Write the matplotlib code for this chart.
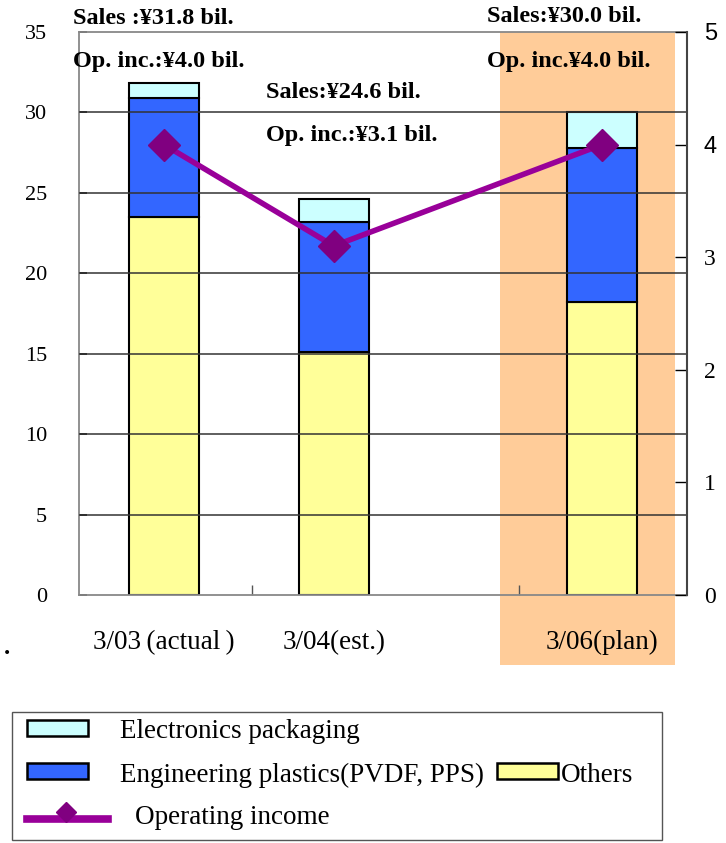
import matplotlib
matplotlib.use('Agg')
import matplotlib.pyplot as plt
from matplotlib.patches import Rectangle
from matplotlib.lines import Line2D
import matplotlib.transforms as mtransforms

# Data (billion yen)
periods = ['3/03\u2009(actual\u2009)', '3/04(est.)', '3/06(plan)']
others = [23.5, 15.1, 18.2]
eng_plastics = [7.4, 8.1, 9.6]
electronics = [0.9, 1.4, 2.2]
op_income = [4.0, 3.1, 4.0]
sales_labels = ['Sales :¥31.8 bil.', 'Sales:¥24.6 bil.', 'Sales:¥30.0 bil.']
opinc_labels = ['Op. inc.:¥4.0 bil.', 'Op. inc.:¥3.1 bil.', 'Op. inc.¥4.0 bil.']

# layout (the original has an uneven gap before the plan year)
xpos = [0, 1, 2.58]
sep_ticks = [0.52, 2.09]
bar_w = 0.41

c_others = '#FFFF99'
c_eng = '#3366FF'
c_elec = '#CCFFFF'
c_line = '#990099'
c_mark = '#800080'
c_band = '#FFCC99'

serif = ['Liberation Serif', 'DejaVu Serif']
plt.rcParams['font.family'] = serif

fig = plt.figure(figsize=(7.26, 8.43), dpi=100)
ax = fig.add_axes([79 / 726, 1 - 595 / 843, 608 / 726, 563 / 843])

# shaded plan column, runs down over the tick label
trans = mtransforms.blended_transform_factory(ax.transData, ax.transAxes)
ax.add_patch(Rectangle((1.98, -0.124), 1.03, 1.124, transform=trans,
                       facecolor=c_band, edgecolor='none', clip_on=False, zorder=0))

bottom2 = [a + b for a, b in zip(others, eng_plastics)]
ax.bar(xpos, others, bar_w, color=c_others, edgecolor='black', linewidth=1.5, zorder=2)
ax.bar(xpos, eng_plastics, bar_w, bottom=others, color=c_eng, edgecolor='black', linewidth=1.5, zorder=2)
ax.bar(xpos, electronics, bar_w, bottom=bottom2, color=c_elec, edgecolor='black', linewidth=1.5, zorder=2)

for y in range(5, 35, 5):
    ax.axhline(y, color='#333333', linewidth=1.1, zorder=3)

ax.set_xlim(-0.5, 3.08)
ax.set_ylim(0, 35)
ax.set_yticks(range(0, 36, 5))
ax.tick_params(axis='y', direction='in', length=6, width=1.2, pad=23, labelsize=16, color='black')
ax.set_xticks(sep_ticks)
ax.set_xticklabels([])
ax.tick_params(axis='x', direction='in', length=7, width=1, color='#555555')
ax.set_xticks(xpos, minor=True)
ax.set_xticklabels(periods, minor=True, fontsize=19.5)
ax.tick_params(axis='x', which='minor', length=0, pad=25)
for s in ax.spines.values():
    s.set_color('#888888')
    s.set_linewidth(1.3)
ax.spines['right'].set_visible(False)
ax.set_facecolor('none')

ax2 = ax.twinx()
ax2.plot(xpos, op_income, color=c_line, linewidth=4, marker='D', markersize=16,
         markerfacecolor=c_mark, markeredgecolor=c_mark, zorder=5)
ax2.set_ylim(0, 5)
ax2.set_yticks(range(0, 6))
ax2.tick_params(axis='y', direction='in', length=9, width=1, pad=12, labelsize=17)
for s in ax2.spines.values():
    s.set_visible(False)
ax2.spines['right'].set_visible(True)
ax2.spines['right'].set_color('#444444')
ax2.spines['right'].set_linewidth(1.5)
for lab in ax2.get_yticklabels()[4:]:
    lab.set_fontfamily(['Liberation Sans'])

# annotations
ann_x = [73, 266, 487]
sales_y = [18, 92, 17]
op_y = [62, 136, 62]
for i in range(3):
    fig.text(ann_x[i] / 726, 1 - sales_y[i] / 843, sales_labels[i], fontsize=17.5,
             fontweight='bold', va='center', ha='left')
    fig.text(ann_x[i] / 726, 1 - op_y[i] / 843, opinc_labels[i], fontsize=17.5,
             fontweight='bold', va='center', ha='left')

fig.text(4 / 726, 1 - 648 / 843, '.', fontsize=18, fontweight='bold', va='center')

# legend box drawn by hand to keep the original two-column second row
fig.patches.append(Rectangle((12 / 726, 1 - 840 / 843), 650 / 726, 128 / 843,
                             transform=fig.transFigure, facecolor='white',
                             edgecolor='#555555', linewidth=1))
def leg_patch(x, y, color):
    fig.patches.append(Rectangle((x / 726, 1 - (y + 8) / 843), 61 / 726, 16 / 843,
                                 transform=fig.transFigure, facecolor=color,
                                 edgecolor='black', linewidth=1.8))
leg_patch(27, 728, c_elec)
leg_patch(27, 771, c_eng)
leg_patch(497, 771, c_others)
fig.text(120 / 726, 1 - 731 / 843, 'Electronics packaging', fontsize=19.5, va='center')
fig.text(120 / 726, 1 - 775 / 843, 'Engineering plastics(PVDF, PPS)', fontsize=19.5, va='center')
fig.text(561 / 726, 1 - 775 / 843, 'Others', fontsize=19.5, va='center')
fig.lines.append(Line2D([27 / 726, 108 / 726], [1 - 819 / 843, 1 - 819 / 843],
                        transform=fig.transFigure, color=c_line, linewidth=5.5))
fig.lines.append(Line2D([66 / 726], [1 - 812 / 843], transform=fig.transFigure,
                        marker='D', markersize=10, color=c_mark, linestyle='none'))
fig.text(135 / 726, 1 - 817 / 843, 'Operating income', fontsize=19.5, va='center')

fig.savefig('out.png', dpi=100)
